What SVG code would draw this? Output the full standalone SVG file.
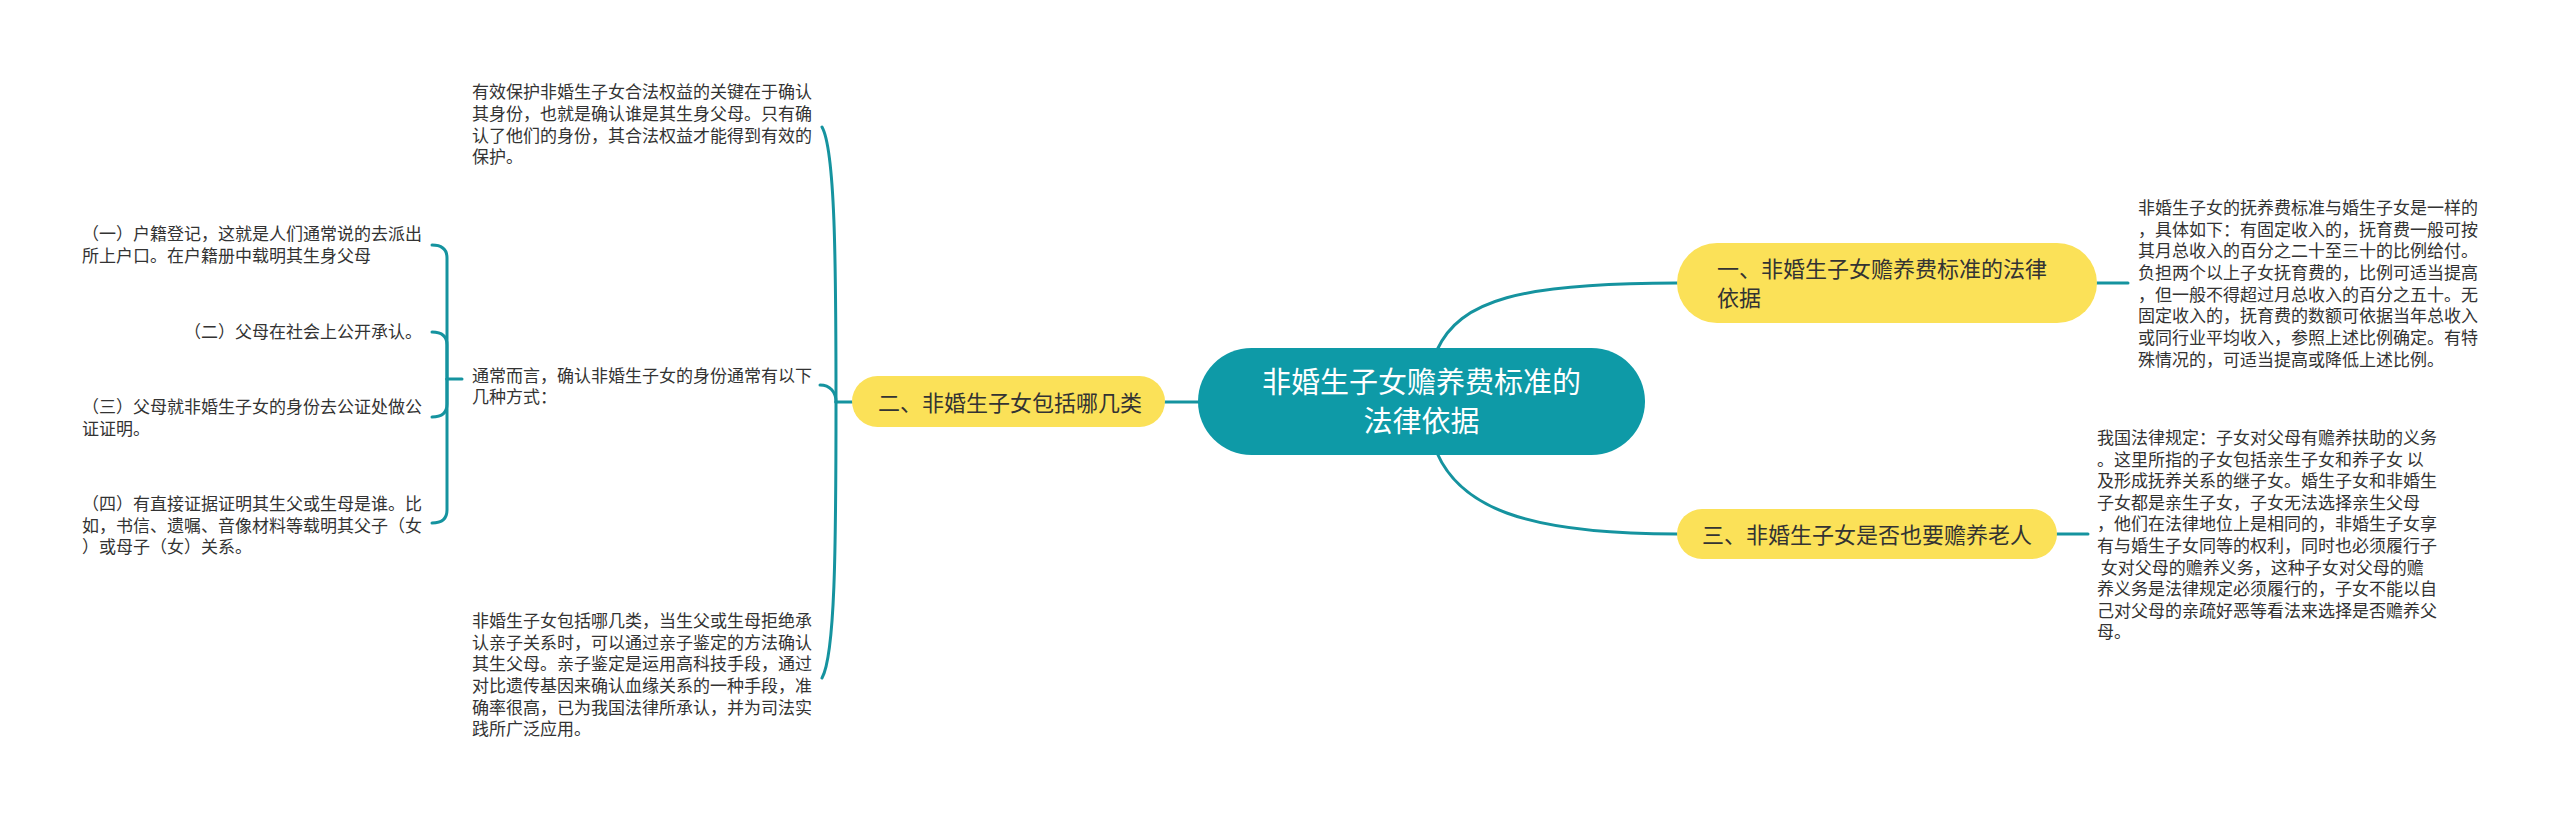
<svg xmlns="http://www.w3.org/2000/svg" width="2560" height="825" viewBox="0 0 2560 825">
<style>
text{font-family:"Noto Sans CJK SC","Noto Sans",sans-serif;}
.c{fill:none;stroke:#15939f;stroke-width:3;stroke-linecap:round}
.d{font-size:17px;fill:#333}
.y{fill:#fbe158}
.t{font-size:22px;fill:#333}
</style>
<rect width="2560" height="825" fill="#fff"/>
<g id="connectors">
<path class="c" d="M1165,402 H1198"/>
<path class="c" d="M1437,350 C1460,300 1520,283 1677,283"/>
<path class="c" d="M1437,453 C1460,505 1520,534 1677,534"/>
<path class="c" d="M2097,283 H2128"/>
<path class="c" d="M2057,534 H2088"/>
<path class="c" d="M852,402 H836"/>
<path class="c" d="M836,402 C836,260 835,150 822,127"/>
<path class="c" d="M836,402 C836,392 830,385 820,385"/>
<path class="c" d="M836,402 C836,550 835,655 822,678"/>
<path class="c" d="M462,379 H447"/>
<path class="c" d="M447,379 V258 Q447,245 432,245"/>
<path class="c" d="M447,379 V345 Q447,332 432,332"/>
<path class="c" d="M447,379 V404 Q447,417 432,417"/>
<path class="c" d="M447,379 V510 Q447,523 432,523"/>
</g>
<g id="root">
<rect x="1198" y="348" width="447" height="107" rx="53.5" fill="#0e9aa7"/>
<text x="1421.5" y="393" font-size="29" fill="#fff" text-anchor="middle">非婚生子女赡养费标准的</text>
<text x="1421.5" y="432" font-size="29" fill="#fff" text-anchor="middle">法律依据</text>
</g>
<g id="n1">
<rect class="y" x="1677" y="243" width="420" height="80" rx="40"/>
<text class="t" x="1717" y="277">一、非婚生子女赡养费标准的法律</text>
<text class="t" x="1717" y="306">依据</text>
</g>
<g id="n1d">
<text class="d" x="2138" y="214">非婚生子女的抚养费标准与婚生子女是一样的</text>
<text class="d" x="2138" y="236">，具体如下：有固定收入的，抚育费一般可按</text>
<text class="d" x="2138" y="257">其月总收入的百分之二十至三十的比例给付。</text>
<text class="d" x="2138" y="279">负担两个以上子女抚育费的，比例可适当提高</text>
<text class="d" x="2138" y="301">，但一般不得超过月总收入的百分之五十。无</text>
<text class="d" x="2138" y="322">固定收入的，抚育费的数额可依据当年总收入</text>
<text class="d" x="2138" y="344">或同行业平均收入，参照上述比例确定。有特</text>
<text class="d" x="2138" y="366">殊情况的，可适当提高或降低上述比例。</text>
</g>
<g id="n3">
<rect class="y" x="1677" y="509" width="380" height="50" rx="25"/>
<text class="t" x="1702" y="543">三、非婚生子女是否也要赡养老人</text>
</g>
<g id="n3d">
<text class="d" x="2097" y="444" xml:space="preserve">我国法律规定：子女对父母有赡养扶助的义务</text>
<text class="d" x="2097" y="466" xml:space="preserve">。这里所指的子女包括亲生子女和养子女 以</text>
<text class="d" x="2097" y="487" xml:space="preserve">及形成抚养关系的继子女。婚生子女和非婚生</text>
<text class="d" x="2097" y="509" xml:space="preserve">子女都是亲生子女，子女无法选择亲生父母</text>
<text class="d" x="2097" y="530" xml:space="preserve">，他们在法律地位上是相同的，非婚生子女享</text>
<text class="d" x="2097" y="552" xml:space="preserve">有与婚生子女同等的权利，同时也必须履行子</text>
<text class="d" x="2097" y="574" xml:space="preserve"> 女对父母的赡养义务，这种子女对父母的赡</text>
<text class="d" x="2097" y="595" xml:space="preserve">养义务是法律规定必须履行的，子女不能以自</text>
<text class="d" x="2097" y="617" xml:space="preserve">己对父母的亲疏好恶等看法来选择是否赡养父</text>
<text class="d" x="2097" y="638" xml:space="preserve">母。</text>
</g>
<g id="n2">
<rect class="y" x="852" y="376" width="313" height="51" rx="25.5"/>
<text class="t" x="878" y="411">二、非婚生子女包括哪几类</text>
</g>
<g id="n2a">
<text class="d" x="472" y="98">有效保护非婚生子女合法权益的关键在于确认</text>
<text class="d" x="472" y="120">其身份，也就是确认谁是其生身父母。只有确</text>
<text class="d" x="472" y="142">认了他们的身份，其合法权益才能得到有效的</text>
<text class="d" x="472" y="163">保护。</text>
</g>
<g id="n2b">
<text class="d" x="472" y="382">通常而言，确认非婚生子女的身份通常有以下</text>
<text class="d" x="472" y="403">几种方式：</text>
</g>
<g id="n2c">
<text class="d" x="472" y="627">非婚生子女包括哪几类，当生父或生母拒绝承</text>
<text class="d" x="472" y="649">认亲子关系时，可以通过亲子鉴定的方法确认</text>
<text class="d" x="472" y="670">其生父母。亲子鉴定是运用高科技手段，通过</text>
<text class="d" x="472" y="692">对比遗传基因来确认血缘关系的一种手段，准</text>
<text class="d" x="472" y="714">确率很高，已为我国法律所承认，并为司法实</text>
<text class="d" x="472" y="735">践所广泛应用。</text>
</g>
<g id="m1">
<text class="d" x="82" y="240">（一）户籍登记，这就是人们通常说的去派出</text>
<text class="d" x="82" y="262">所上户口。在户籍册中载明其生身父母</text>
</g>
<g id="m2">
<text class="d" x="422" y="338" text-anchor="end">（二）父母在社会上公开承认。</text>
</g>
<g id="m3">
<text class="d" x="82" y="413">（三）父母就非婚生子女的身份去公证处做公</text>
<text class="d" x="82" y="435">证证明。</text>
</g>
<g id="m4">
<text class="d" x="82" y="510">（四）有直接证据证明其生父或生母是谁。比</text>
<text class="d" x="82" y="532">如，书信、遗嘱、音像材料等载明其父子（女</text>
<text class="d" x="82" y="553">）或母子（女）关系。</text>
</g>
</svg>
